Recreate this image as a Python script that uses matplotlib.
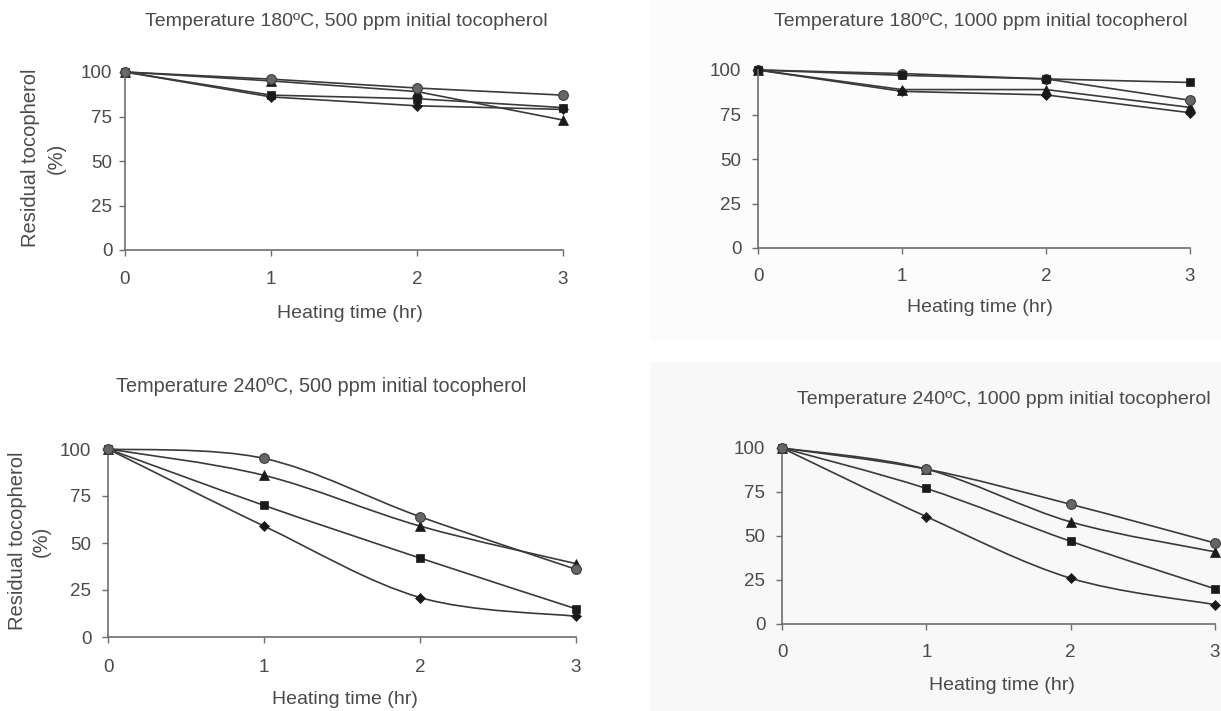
import matplotlib
matplotlib.use("Agg")
import matplotlib.pyplot as plt
from matplotlib.path import Path
from matplotlib.patches import PathPatch, Rectangle
import numpy as np

plt.rcParams['font.family'] = ['Liberation Sans', 'DejaVu Sans']

# ---- data -------------------------------------------------------------
hours = [0, 1, 2, 3]
yticks = [0, 25, 50, 75, 100]

titles = [
    "Temperature 180ºC, 500 ppm initial tocopherol",
    "Temperature 180ºC, 1000 ppm initial tocopherol",
    "Temperature 240ºC, 500 ppm initial tocopherol",
    "Temperature 240ºC, 1000 ppm initial tocopherol",
]

# residual tocopherol (%) per series, one list per panel
t180_500_circle = [100, 96, 91, 87]
t180_500_triangle = [100, 95, 89, 73]
t180_500_square = [100, 87, 85, 80]
t180_500_diamond = [100, 86, 81, 79]

t180_1000_circle = [100, 98, 95, 83]
t180_1000_square = [100, 97, 95, 93]
t180_1000_triangle = [100, 89, 89, 79]
t180_1000_diamond = [100, 88, 86, 76]

t240_500_circle = [100, 95, 64, 36]
t240_500_triangle = [100, 86, 59, 39]
t240_500_square = [100, 70, 42, 15]
t240_500_diamond = [100, 59, 21, 11]

t240_1000_circle = [100, 88, 68, 46]
t240_1000_triangle = [100, 88, 58, 41]
t240_1000_square = [100, 77, 47, 20]
t240_1000_diamond = [100, 61, 26, 11]

W, H = 1221, 711
fig = plt.figure(figsize=(W / 100, H / 100), dpi=100)
fig.patch.set_facecolor("white")

# faint paper tone behind the right-hand panels
fig.add_artist(Rectangle((651 / W, 0), 1 - 651 / W, (711 - 362) / H,
                         transform=fig.transFigure, color="#f8f8f8", zorder=-5))
fig.add_artist(Rectangle((651 / W, (711 - 340) / H), 1 - 651 / W, 340 / H,
                         transform=fig.transFigure, color="#fcfcfc", zorder=-5))


def px_axes(x0, x3, y100, y0):
    return fig.add_axes([x0 / W, (H - y0) / H, (x3 - x0) / W, (y0 - y100) / H])


def ftext(x, y, s, **kw):
    fig.text(x / W, 1 - y / H, s, ha="center", va="center", color="#4a4a4a", **kw)


def smooth_path(xs, ys):
    pts = np.column_stack([xs, ys]).astype(float)
    n = len(pts)
    verts = [pts[0]]
    codes = [Path.MOVETO]
    for i in range(n - 1):
        p_prev = pts[max(i - 1, 0)]
        p0, p1 = pts[i], pts[i + 1]
        p_next = pts[min(i + 2, n - 1)]
        c1 = p0 + (p1 - p_prev) / 6.0
        c2 = p1 - (p_next - p0) / 6.0
        verts += [c1, c2, p1]
        codes += [Path.CURVE4] * 3
    return Path(verts, codes)


line_color = "#3a3a3a"
styles = {
    "circle": dict(marker="o", ms=7, mfc="#666666", mec="#3c3c3c", mew=0.8),
    "triangle": dict(marker="^", ms=7, mfc="#1a1a1a", mec="#1a1a1a", mew=0.5),
    "square": dict(marker="s", ms=6, mfc="#1a1a1a", mec="#1a1a1a", mew=0.5),
    "diamond": dict(marker="D", ms=5, mfc="#1a1a1a", mec="#1a1a1a", mew=0.5),
}

PX = 0.72  # points per pixel at 100 dpi

panels = [
    dict(box=(125, 563, 72, 250), smooth=False, xpad=15, ypad=7,
         series=[("diamond", t180_500_diamond), ("square", t180_500_square),
                 ("triangle", t180_500_triangle), ("circle", t180_500_circle)]),
    dict(box=(758, 1190, 70, 248), smooth=False, xpad=14, ypad=11,
         series=[("diamond", t180_1000_diamond), ("triangle", t180_1000_triangle),
                 ("circle", t180_1000_circle), ("square", t180_1000_square)]),
    dict(box=(108, 576, 449, 637), smooth=True, xpad=16, ypad=11,
         series=[("diamond", t240_500_diamond), ("square", t240_500_square),
                 ("triangle", t240_500_triangle), ("circle", t240_500_circle)]),
    dict(box=(782, 1215, 448, 624), smooth=True, xpad=14, ypad=11,
         series=[("diamond", t240_1000_diamond), ("square", t240_1000_square),
                 ("triangle", t240_1000_triangle), ("circle", t240_1000_circle)]),
]

for p in panels:
    ax = px_axes(*p["box"])
    ax.set_facecolor("none")
    ax.set_xlim(0, 3)
    ax.set_ylim(0, 100)
    for side in ("top", "right"):
        ax.spines[side].set_visible(False)
    for side in ("left", "bottom"):
        ax.spines[side].set_color("#6e6e6e")
        ax.spines[side].set_linewidth(1.2)
    ax.set_xticks(hours)
    ax.set_yticks(yticks)
    ax.tick_params(axis="both", direction="out", length=4, width=1.0,
                   color="#6e6e6e", labelcolor="#4a4a4a", labelsize=13.5)
    ax.tick_params(axis="x", pad=p["xpad"] * PX)
    ax.tick_params(axis="y", pad=p["ypad"] * PX)
    for name, vals in p["series"]:
        if p["smooth"]:
            ax.add_patch(PathPatch(smooth_path(hours, vals), fill=False,
                                   ec=line_color, lw=1.2, clip_on=False, zorder=2))
            ax.plot(hours, vals, ls="none", clip_on=False, zorder=3, **styles[name])
        else:
            ax.plot(hours, vals, color=line_color, lw=1.2, clip_on=False,
                    zorder=2, **styles[name])

# titles
ftext(346, 21, titles[0], fontsize=14)
ftext(981, 22, titles[1], fontsize=14)
ftext(321, 387, titles[2], fontsize=14.3)
ftext(1004, 400, titles[3], fontsize=14)

# x-axis labels
ftext(350, 313, "Heating time (hr)", fontsize=14)
ftext(980, 308, "Heating time (hr)", fontsize=14)
ftext(345, 700, "Heating time (hr)", fontsize=14)
ftext(1002, 685, "Heating time (hr)", fontsize=14)

# y-axis labels (left column only)
ftext(31, 158, "Residual tocopherol", fontsize=14.5, rotation=90)
ftext(56, 158, "(%)", fontsize=14.5, rotation=90)
ftext(18, 541, "Residual tocopherol", fontsize=14.5, rotation=90)
ftext(41, 541, "(%)", fontsize=14.5, rotation=90)

fig.savefig("out.png", dpi=100)
